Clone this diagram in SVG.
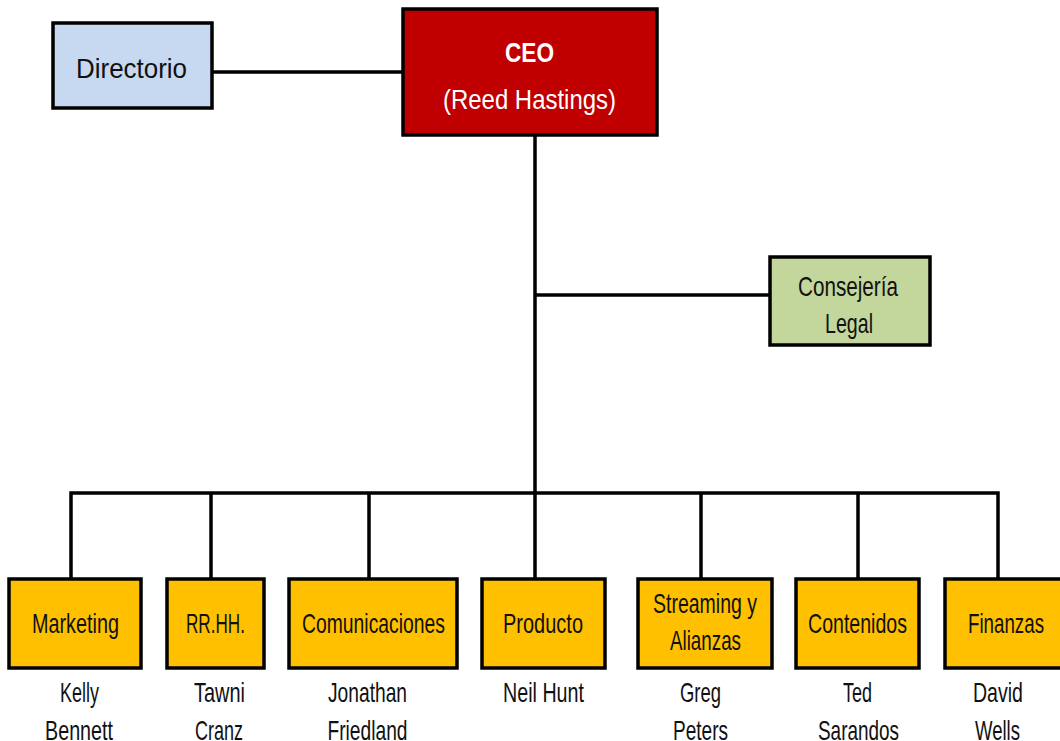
<svg xmlns="http://www.w3.org/2000/svg" width="1060" height="741" viewBox="0 0 1060 741">
<style>
.box{stroke:#000;stroke-width:3.5}
.ln{stroke:#000;stroke-width:3.5;fill:none}
text{font-family:"Liberation Sans",Arial,sans-serif;font-size:28px;fill:#111;text-anchor:middle}
.w{fill:#fff}
.b{font-weight:bold}
</style>
<rect width="1060" height="741" fill="#fff"/>
<g id="connectors">
<path class="ln" d="M212 72H403"/>
<path class="ln" d="M535 135V493"/>
<path class="ln" d="M535 295H770"/>
<path class="ln" d="M71 579V493H998V579"/>
<path class="ln" d="M211 493V579M369 493V579M535 493V579M701 493V579M858 493V579"/>
</g>
<g id="directorio">
<rect class="box" x="53" y="23" width="159" height="85" fill="#c6d9f1"/>
<text x="131.5" y="78" textLength="111" lengthAdjust="spacingAndGlyphs" font-size="34">Directorio</text>
</g>
<g id="ceo">
<rect class="box" x="403" y="9" width="254" height="126" fill="#c00000"/>
<text class="w b" x="529.5" y="62" textLength="49" lengthAdjust="spacingAndGlyphs" font-size="37">CEO</text>
<text class="w" x="529.5" y="109" textLength="173" lengthAdjust="spacingAndGlyphs" font-size="30">(Reed Hastings)</text>
</g>
<g id="consejeria">
<rect class="box" x="770" y="257" width="160" height="88" fill="#c3d69b"/>
<text x="848" y="296" textLength="100" lengthAdjust="spacingAndGlyphs" font-size="29">Consejería</text>
<text x="849" y="333" textLength="48" lengthAdjust="spacingAndGlyphs" font-size="29">Legal</text>
</g>
<g id="marketing">
<rect class="box" x="9" y="579" width="132" height="89" fill="#ffc000"/>
<text x="75.5" y="633" textLength="87" lengthAdjust="spacingAndGlyphs">Marketing</text>
<text x="79.5" y="702" textLength="39" lengthAdjust="spacingAndGlyphs">Kelly</text>
<text x="79" y="740" textLength="68" lengthAdjust="spacingAndGlyphs">Bennett</text>
</g>
<g id="rrhh">
<rect class="box" x="167" y="579" width="97" height="89" fill="#ffc000"/>
<text x="215.5" y="633" textLength="59" lengthAdjust="spacingAndGlyphs">RR.HH.</text>
<text x="219.5" y="702" textLength="51" lengthAdjust="spacingAndGlyphs">Tawni</text>
<text x="219" y="740" textLength="48" lengthAdjust="spacingAndGlyphs">Cranz</text>
</g>
<g id="comunicaciones">
<rect class="box" x="289" y="579" width="168" height="89" fill="#ffc000"/>
<text x="373.5" y="633" textLength="143" lengthAdjust="spacingAndGlyphs">Comunicaciones</text>
<text x="367.5" y="702" textLength="79" lengthAdjust="spacingAndGlyphs">Jonathan</text>
<text x="367.5" y="740" textLength="80" lengthAdjust="spacingAndGlyphs">Friedland</text>
</g>
<g id="producto">
<rect class="box" x="482" y="579" width="123" height="89" fill="#ffc000"/>
<text x="543" y="633" textLength="80" lengthAdjust="spacingAndGlyphs">Producto</text>
<text x="543.5" y="702" textLength="81" lengthAdjust="spacingAndGlyphs">Neil Hunt</text>
</g>
<g id="streaming">
<rect class="box" x="638" y="579" width="134" height="89" fill="#ffc000"/>
<text x="705" y="613" textLength="104" lengthAdjust="spacingAndGlyphs">Streaming y</text>
<text x="705.5" y="650" textLength="71" lengthAdjust="spacingAndGlyphs">Alianzas</text>
<text x="700.5" y="702" textLength="41" lengthAdjust="spacingAndGlyphs">Greg</text>
<text x="700.5" y="740" textLength="55" lengthAdjust="spacingAndGlyphs">Peters</text>
</g>
<g id="contenidos">
<rect class="box" x="796" y="579" width="123" height="89" fill="#ffc000"/>
<text x="857.5" y="633" textLength="99" lengthAdjust="spacingAndGlyphs">Contenidos</text>
<text x="857.5" y="702" textLength="29" lengthAdjust="spacingAndGlyphs">Ted</text>
<text x="858.5" y="740" textLength="81" lengthAdjust="spacingAndGlyphs">Sarandos</text>
</g>
<g id="finanzas">
<rect class="box" x="945" y="579" width="130" height="89" fill="#ffc000"/>
<text x="1006" y="633" textLength="76" lengthAdjust="spacingAndGlyphs">Finanzas</text>
<text x="998" y="702" textLength="50" lengthAdjust="spacingAndGlyphs">David</text>
<text x="997.5" y="740" textLength="45" lengthAdjust="spacingAndGlyphs">Wells</text>
</g>
</svg>
